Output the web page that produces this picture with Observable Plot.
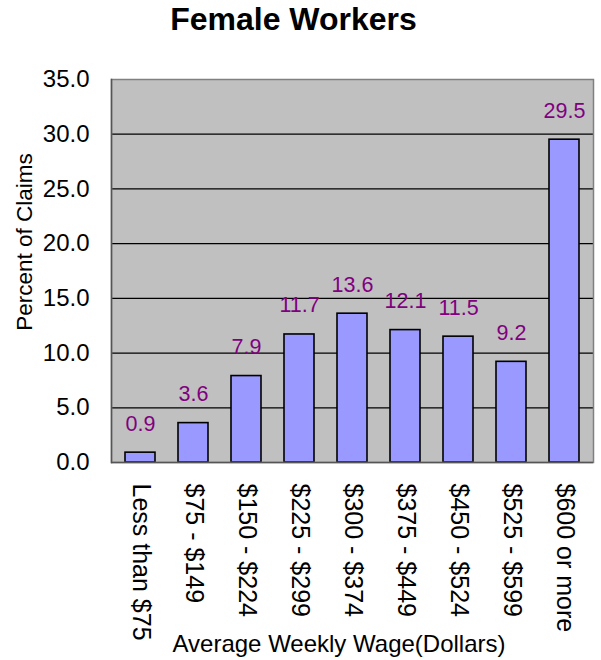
<!DOCTYPE html>
<html>
<head>
<meta charset="utf-8">
<script src="https://cdn.jsdelivr.net/npm/d3@7"></script>
<script src="https://cdn.jsdelivr.net/npm/@observablehq/plot@0.6"></script>
<style>
  html, body { margin: 0; padding: 0; background: #fff; }
  #wrap { position: relative; width: 601px; height: 660px; font-family: "Liberation Sans", Arial, sans-serif; }
  #title { position: absolute; left: 0; top: 1px; width: 587px; text-align: center; font-weight: bold; font-size: 32px; line-height: 36px; color: #000; }
  #chart { position: absolute; left: 0; top: 0; }
</style>
</head>
<body>
<div id="wrap">
  <div id="chart"></div>
  <div id="title">Female Workers</div>
</div>
<script>
const categories = ["Less than $75", "$75 - $149", "$150 - $224", "$225 - $299", "$300 - $374", "$375 - $449", "$450 - $524", "$525 - $599", "$600 or more"];
const values = [0.9, 3.6, 7.9, 11.7, 13.6, 12.1, 11.5, 9.2, 29.5];
const yTicks = [0, 5, 10, 15, 20, 25, 30, 35];
const gridTicks = [5, 10, 15, 20, 25, 30];
const yTitle = "Percent of Claims";
const xTitle = "Average Weekly Wage(Dollars)";

const data = categories.map((c, i) => ({category: c, value: values[i]}));

const chart = Plot.plot({
  width: 601,
  height: 660,
  marginTop: 79,
  marginBottom: 198,
  marginLeft: 111,
  marginRight: 8,
  style: {fontFamily: "'Liberation Sans', Arial, sans-serif", color: "#000", background: "transparent"},
  x: {domain: categories, paddingInner: 0.43, paddingOuter: 0.21},
  y: {domain: [0, 35]},
  marks: [
    Plot.frame({fill: "#C0C0C0", stroke: null}),
    Plot.ruleY(gridTicks, {stroke: "#000", strokeWidth: 1.2}),
    Plot.barY(data, {x: "category", y: "value", fill: "#9999FF", stroke: "#000", strokeWidth: 1.6}),
    Plot.frame({stroke: "#808080", strokeWidth: 1.5}),
    Plot.frame({anchor: "left", stroke: "#555", strokeWidth: 1.5}),
    Plot.ruleY([0], {stroke: "#555", strokeWidth: 1.5}),
    Plot.text(data, {x: "category", y: "value", text: d => d.value.toFixed(1), lineAnchor: "bottom", dy: -22, fill: "#800080", fontSize: 21.5}),
    Plot.axisY({ticks: yTicks, tickFormat: d => d.toFixed(1), tickSize: 0, tickPadding: 22, fontSize: 24, label: null}),
    Plot.axisX({tickRotate: 90, tickSize: 0, tickPadding: 21, fontSize: 25, label: null}),
    Plot.text([yTitle], {text: d => d, frameAnchor: "left", textAnchor: "middle", rotate: -90, dx: -87, dy: -29, fontSize: 22.5, lineAnchor: "middle"}),
    Plot.text([xTitle], {text: d => d, frameAnchor: "bottom", textAnchor: "middle", dx: -13.5, dy: 182, fontSize: 24, lineAnchor: "middle"})
  ]
});
document.getElementById("chart").appendChild(chart);
</script>
</body>
</html>
